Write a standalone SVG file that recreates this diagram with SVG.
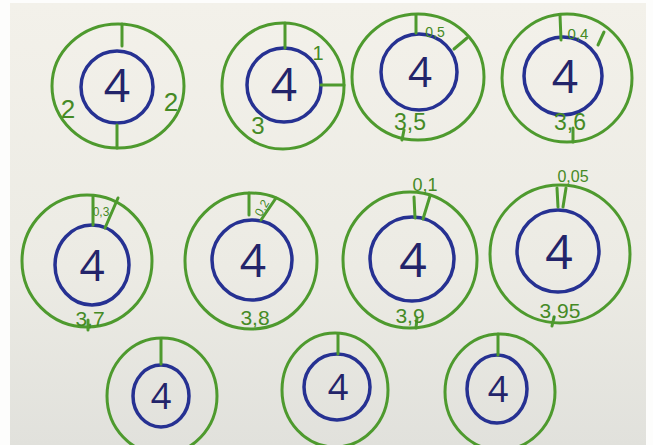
<svg xmlns="http://www.w3.org/2000/svg" width="653" height="445" viewBox="0 0 653 445">
<defs>
<linearGradient id="paper" x1="0" y1="0" x2="0" y2="1">
<stop offset="0" stop-color="#f3f1ea"/>
<stop offset="0.6" stop-color="#ecebe4"/>
<stop offset="1" stop-color="#e1e1dc"/>
</linearGradient>
<style>
.g{fill:none;stroke:#4e9a2e;stroke-width:3;stroke-linecap:round}
.b{fill:none;stroke:#263192;stroke-width:3.5}
.n{font-family:"Open Sans","Liberation Sans",sans-serif;font-weight:400;fill:#23246a;text-anchor:middle}
.l{font-family:"Liberation Sans","DejaVu Sans",sans-serif;fill:#458a25;text-anchor:middle}
</style>
</defs>
<rect x="0" y="0" width="653" height="445" fill="#fdfdfc"/>
<rect x="10" y="3" width="636" height="442" fill="url(#paper)"/>

<g id="c1">
<ellipse class="g" cx="118" cy="86" rx="66" ry="62"/>
<circle class="b" cx="117" cy="87" r="36"/>
<line class="g" x1="122" y1="24" x2="122" y2="46"/>
<line class="g" x1="117" y1="125" x2="117" y2="148"/>
<text class="n" x="117" y="102" font-size="46" fill="#4a2c6e">4</text>
<text class="l" x="68" y="118" font-size="26">2</text>
<text class="l" x="171" y="111" font-size="26">2</text>
</g>

<g id="c2">
<ellipse class="g" cx="283" cy="86" rx="61" ry="63"/>
<circle class="b" cx="284" cy="85" r="37"/>
<line class="g" x1="285" y1="23" x2="285" y2="48"/>
<line class="g" x1="321" y1="85" x2="344" y2="85"/>
<text class="n" x="284" y="101" font-size="46">4</text>
<text class="l" x="318" y="60" font-size="20">1</text>
<text class="l" x="258" y="134" font-size="24">3</text>
</g>

<g id="c3">
<ellipse class="g" cx="418" cy="77" rx="66" ry="63"/>
<circle class="b" cx="419" cy="72" r="38"/>
<line class="g" x1="416" y1="15" x2="416" y2="33"/>
<line class="g" x1="454" y1="49" x2="467" y2="38"/>
<line class="g" x1="404" y1="130" x2="402" y2="140"/>
<text class="n" x="420" y="87" font-size="42">4</text>
<text class="l" x="435" y="37" font-size="14">0,5</text>
<text class="l" x="410" y="130" font-size="23">3,5</text>
</g>

<g id="c4">
<ellipse class="g" cx="567" cy="78" rx="65" ry="64"/>
<circle class="b" cx="563" cy="76" r="39"/>
<line class="g" x1="560" y1="15" x2="561" y2="40"/>
<line class="g" x1="598" y1="45" x2="604" y2="32"/>
<line class="g" x1="573" y1="128" x2="573" y2="142"/>
<text class="n" x="565" y="93" font-size="46">4</text>
<text class="l" x="578" y="39" font-size="15">0,4</text>
<text class="l" x="570" y="130" font-size="23">3,6</text>
</g>

<g id="c5">
<ellipse class="g" cx="87" cy="261" rx="65" ry="66"/>
<ellipse class="b" cx="92" cy="265" rx="37" ry="40"/>
<line class="g" x1="93" y1="196" x2="93" y2="225"/>
<line class="g" x1="105" y1="228" x2="118" y2="198"/>
<line class="g" x1="88" y1="320" x2="88" y2="330"/>
<text class="n" x="92" y="281" font-size="44">4</text>
<text class="l" x="101" y="216" font-size="12">0,3</text>
<text class="l" x="90" y="326" font-size="21">3,7</text>
</g>

<g id="c6">
<ellipse class="g" cx="251" cy="261" rx="66" ry="68"/>
<circle class="b" cx="252" cy="260" r="40"/>
<line class="g" x1="249" y1="193" x2="249" y2="215"/>
<line class="g" x1="261" y1="220" x2="276" y2="198"/>
<text class="n" x="253" y="277" font-size="46">4</text>
<text class="l" x="262" y="212" font-size="12" transform="rotate(-60 262 208)">0,2</text>
<text class="l" x="255" y="325" font-size="21">3,8</text>
</g>

<g id="c7">
<ellipse class="g" cx="410" cy="260" rx="67" ry="68"/>
<circle class="b" cx="412" cy="259" r="42"/>
<line class="g" x1="414" y1="197" x2="415" y2="218"/>
<line class="g" x1="423" y1="219" x2="430" y2="196"/>
<line class="g" x1="417" y1="318" x2="416" y2="328"/>
<text class="n" x="413" y="277" font-size="48">4</text>
<text class="l" x="425" y="191" font-size="18">0,1</text>
<text class="l" x="410" y="323" font-size="21">3,9</text>
</g>

<g id="c8">
<ellipse class="g" cx="560" cy="254" rx="70" ry="69"/>
<circle class="b" cx="558" cy="251" r="41"/>
<line class="g" x1="557" y1="188" x2="558" y2="207"/>
<line class="g" x1="566" y1="188" x2="563" y2="207"/>
<line class="g" x1="554" y1="317" x2="552" y2="326"/>
<text class="n" x="559" y="269" font-size="48">4</text>
<text class="l" x="573" y="182" font-size="16">0,05</text>
<text class="l" x="560" y="318" font-size="21">3,95</text>
</g>

<g id="c9">
<ellipse class="g" cx="162" cy="396" rx="55" ry="58"/>
<ellipse class="b" cx="161" cy="396" rx="28" ry="31"/>
<line class="g" x1="161" y1="339" x2="161" y2="364"/>
<text class="n" x="161" y="409" font-size="36">4</text>
</g>

<g id="c10">
<ellipse class="g" cx="335" cy="390" rx="53" ry="57"/>
<circle class="b" cx="337" cy="387" r="33"/>
<line class="g" x1="338" y1="334" x2="338" y2="354"/>
<text class="n" x="338" y="400" font-size="36">4</text>
</g>

<g id="c11">
<ellipse class="g" cx="500" cy="392" rx="55" ry="58"/>
<ellipse class="b" cx="497" cy="389" rx="30" ry="34"/>
<line class="g" x1="498" y1="334" x2="498" y2="355"/>
<text class="n" x="498" y="402" font-size="36">4</text>
</g>
</svg>
